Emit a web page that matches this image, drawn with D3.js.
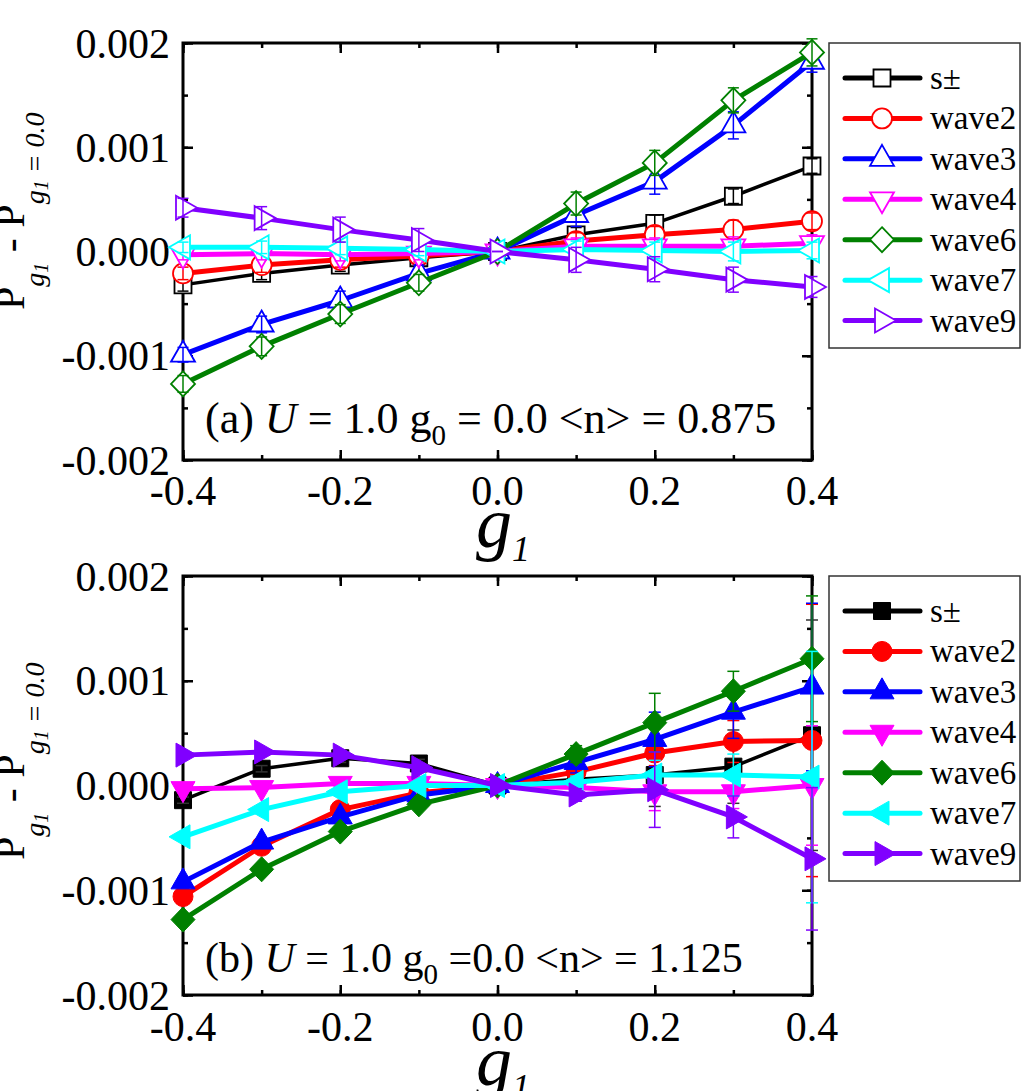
<!DOCTYPE html>
<html>
<head>
<meta charset="utf-8">
<script src="https://cdn.jsdelivr.net/npm/d3@7"></script>
<style>
body { margin: 0; background: #fff; }
svg text { font-family: "Liberation Serif", Tinos, "DejaVu Serif", serif; }
</style>
</head>
<body>
<svg id="chart" width="1025" height="1091" font-family="Liberation Serif"></svg>
<script>
// x values and labels
var g1Values = [-0.4, -0.3, -0.2, -0.1, 0.0, 0.1, 0.2, 0.3, 0.4];
var seriesNames = ["s\u00b1", "wave2", "wave3", "wave4", "wave6", "wave7", "wave9"];
var xTicks = [-0.4, -0.2, 0.0, 0.2, 0.4];
var yTicks = [-0.002, -0.001, 0.000, 0.001, 0.002];

// panel (a), <n> = 0.875
var aSpm   = [-0.00032, -0.00021, -0.00013, -0.00006, 0, 0.00016, 0.00027, 0.00053, 0.00082];
var aWave2 = [-0.00021, -0.00013, -0.00008, -0.00004, 0, 0.00010, 0.00016, 0.00021, 0.00029];
var aWave3 = [-0.00099, -0.00070, -0.00047, -0.00021, 0, 0.00035, 0.00067, 0.00121, 0.00182];
var aWave4 = [-0.00003, -0.00002, -0.00003, -0.00002, 0, 0.00005, 0.00005, 0.00005, 0.00008];
var aWave6 = [-0.00127, -0.00091, -0.00060, -0.00030, 0, 0.00046, 0.00085, 0.00145, 0.00191];
var aWave7 = [0.00004, 0.00004, 0.00003, 0.00002, 0, 0.00002, 0.00001, 0.00000, 0.00001];
var aWave9 = [0.00042, 0.00032, 0.00021, 0.00011, 0, -0.00008, -0.00017, -0.00027, -0.00034];

var aErrSpm   = [0.00006, 0.00006, 0.00006, 0.00005, 0, 0.00007, 0.00008, 0.00007, 0.00007];
var aErrWave2 = [0.00006, 0.00007, 0.00007, 0.00006, 0, 0.00008, 0.00008, 0.00009, 0.00008];
var aErrWave3 = [0.00007, 0.00008, 0.00009, 0.00008, 0, 0.00011, 0.00012, 0.00013, 0.00010];
var aErrWave4 = [0.00005, 0.00006, 0.00006, 0.00006, 0, 0.00008, 0.00008, 0.00009, 0.00008];
var aErrWave6 = [0.00008, 0.00009, 0.00009, 0.00008, 0, 0.00011, 0.00012, 0.00012, 0.00013];
var aErrWave7 = [0.00005, 0.00006, 0.00006, 0.00006, 0, 0.00008, 0.00008, 0.00009, 0.00008];
var aErrWave9 = [0.00009, 0.00011, 0.00012, 0.00011, 0, 0.00012, 0.00012, 0.00012, 0.00010];

// panel (b), <n> = 1.125
var bSpm   = [-0.00014, 0.00016, 0.00026, 0.00021, 0, 0.00006, 0.00010, 0.00018, 0.00048];
var bWave2 = [-0.00106, -0.00058, -0.00023, -0.00007, 0, 0.00013, 0.00031, 0.00042, 0.00043];
var bWave3 = [-0.00092, -0.00054, -0.00030, -0.00009, 0, 0.00022, 0.00044, 0.00070, 0.00094];
var bWave4 = [-0.00003, -0.00002, 0.00002, 0.00002, 0, -0.00002, -0.00006, -0.00006, 0.00000];
var bWave6 = [-0.00128, -0.00080, -0.00044, -0.00018, 0, 0.00030, 0.00060, 0.00090, 0.00121];
var bWave7 = [-0.00049, -0.00023, -0.00006, 0.00000, 0, 0.00003, 0.00010, 0.00010, 0.00008];
var bWave9 = [0.00029, 0.00032, 0.00029, 0.00017, 0, -0.00009, -0.00004, -0.00030, -0.00070];

var bErrSpm   = [0.00003, 0.00003, 0.00004, 0.00004, 0, 0.00008, 0.00030, 0.00035, 0.00110];
var bErrWave2 = [0.00003, 0.00003, 0.00004, 0.00004, 0, 0.00008, 0.00012, 0.00020, 0.00130];
var bErrWave3 = [0.00003, 0.00003, 0.00004, 0.00004, 0, 0.00010, 0.00026, 0.00025, 0.00080];
var bErrWave4 = [0.00003, 0.00003, 0.00004, 0.00004, 0, 0.00006, 0.00018, 0.00016, 0.00057];
var bErrWave6 = [0.00003, 0.00003, 0.00004, 0.00004, 0, 0.00008, 0.00028, 0.00019, 0.00060];
var bErrWave7 = [0.00003, 0.00003, 0.00004, 0.00004, 0, 0.00006, 0.00014, 0.00020, 0.00120];
var bErrWave9 = [0.00003, 0.00003, 0.00004, 0.00004, 0, 0.00006, 0.00036, 0.00020, 0.00068];

var colors = ["#000000", "#ff0000", "#0000ff", "#ff00ff", "#008000", "#00ffff", "#8000ff"];
var shapes = ["square", "circle", "up", "down", "diamond", "left", "right"];

var svg = d3.select("#chart");

var panels = [
	{
		values: [aSpm, aWave2, aWave3, aWave4, aWave6, aWave7, aWave9],
		errors: [aErrSpm, aErrWave2, aErrWave3, aErrWave4, aErrWave6, aErrWave7, aErrWave9],
		filled: false, top: 43, bottom: 460, legTop: 43, legBottom: 348,
		annY: 433, annSize: 44, ann: ["(a) ", "U", " = 1.0 g", "0", " = 0.0 <n> = 0.875"],
		tickY: 505, titleY: 547, ylabY: 310, capW: 11
	},
	{
		values: [bSpm, bWave2, bWave3, bWave4, bWave6, bWave7, bWave9],
		errors: [bErrSpm, bErrWave2, bErrWave3, bErrWave4, bErrWave6, bErrWave7, bErrWave9],
		filled: true, top: 576, bottom: 995, legTop: 576, legBottom: 881,
		annY: 972, annSize: 42, ann: ["(b) ", "U", " = 1.0 g", "0", " =0.0 <n> = 1.125"],
		tickY: 1041, titleY: 1085, ylabY: 860, capW: 12
	}
];

var left = 183, right = 812;

function markerPath(shape) {
	var p = d3.path();
	if (shape == "square") { p.rect(-8.5, -8.5, 17, 17); }
	else if (shape == "circle") { p.arc(0, 0, 10, 0, 2 * Math.PI); p.closePath(); }
	else if (shape == "up") { p.moveTo(0, -14); p.lineTo(12, 7); p.lineTo(-12, 7); p.closePath(); }
	else if (shape == "down") { p.moveTo(0, 14); p.lineTo(12, -7); p.lineTo(-12, -7); p.closePath(); }
	else if (shape == "diamond") { p.moveTo(0, -12.5); p.lineTo(12, 0); p.lineTo(0, 12.5); p.lineTo(-12, 0); p.closePath(); }
	else if (shape == "left") { p.moveTo(-14, 0); p.lineTo(7, -12); p.lineTo(7, 12); p.closePath(); }
	else if (shape == "right") { p.moveTo(14, 0); p.lineTo(-7, -12); p.lineTo(-7, 12); p.closePath(); }
	return p.toString();
}

var fmtY = function(d) { return d3.format(".3f")(d).replace("\u2212", "-"); };
var fmtX = function(d) { return d3.format(".1f")(d).replace("\u2212", "-"); };

panels.forEach(function(pn) {
	var x = d3.scaleLinear().domain([-0.4, 0.4]).range([left, right]);
	var y = d3.scaleLinear().domain([-0.002, 0.002]).range([pn.bottom, pn.top]);
	var h = pn.bottom - pn.top, w = right - left;
	var minorX = d3.range(-4, 5).map(function(i) { return i / 10; });
	var minorY = d3.range(-4, 5).map(function(i) { return i * 0.0005; });

	// axes with inward ticks on all four sides
	var axes = [
		[d3.axisBottom, x, "translate(0," + pn.bottom + ")"],
		[d3.axisTop, x, "translate(0," + pn.top + ")"],
		[d3.axisLeft, y, "translate(" + left + ",0)"],
		[d3.axisRight, y, "translate(" + right + ",0)"]
	];
	axes.forEach(function(a, i) {
		var isX = i < 2;
		svg.append("g").attr("transform", a[2])
			.call(a[0](a[1]).tickValues(isX ? minorX : minorY).tickSize(-5).tickFormat(""))
			.call(function(g) { g.select(".domain").remove(); g.selectAll("line").attr("stroke-width", 2.5); });
		svg.append("g").attr("transform", a[2])
			.call(a[0](a[1]).tickValues(isX ? xTicks : yTicks).tickSize(-10).tickFormat(""))
			.call(function(g) { g.select(".domain").remove(); g.selectAll("line").attr("stroke-width", 2.5); });
	});

	svg.append("rect").attr("x", left).attr("y", pn.top).attr("width", w).attr("height", h)
		.attr("fill", "none").attr("stroke", "#000").attr("stroke-width", 3);

	// tick labels
	svg.append("g").selectAll("text").data(yTicks).enter().append("text")
		.attr("x", 170).attr("y", function(d) { return y(d); }).attr("dy", "0.35em")
		.attr("text-anchor", "end").attr("font-size", 42).text(fmtY);
	svg.append("g").selectAll("text").data(xTicks).enter().append("text")
		.attr("x", function(d) { return x(d); }).attr("y", pn.tickY)
		.attr("text-anchor", "middle").attr("font-size", 42).text(fmtX);

	// series
	var line = d3.line().x(function(d, i) { return x(g1Values[i]); }).y(function(d) { return y(d); });
	pn.values.forEach(function(vals, s) {
		var col = colors[s];
		var grp = svg.append("g");
		grp.append("path").datum(vals).attr("d", line)
			.attr("fill", "none").attr("stroke", col)
			.attr("stroke-width", s == 0 ? 3.5 : 5).attr("stroke-linejoin", "round");
		grp.selectAll(".mk").data(vals).enter().append("path")
			.attr("d", markerPath(shapes[s]))
			.attr("transform", function(d, i) { return "translate(" + x(g1Values[i]) + "," + y(d) + ")"; })
			.attr("fill", pn.filled ? col : "#fff")
			.attr("stroke", col).attr("stroke-width", pn.filled ? 1 : 1.8);
		var errs = pn.errors[s];
		var eb = grp.selectAll(".eb").data(vals).enter().append("g")
			.attr("stroke", pn.filled && s == 0 ? "#333" : col).attr("stroke-width", 1.5);
		eb.append("line")
			.attr("x1", function(d, i) { return x(g1Values[i]); })
			.attr("x2", function(d, i) { return x(g1Values[i]); })
			.attr("y1", function(d, i) { return y(d - errs[i]); })
			.attr("y2", function(d, i) { return y(d + errs[i]); });
		[-1, 1].forEach(function(sg) {
			eb.append("line")
				.attr("x1", function(d, i) { return x(g1Values[i]) - pn.capW / 2; })
				.attr("x2", function(d, i) { return x(g1Values[i]) + pn.capW / 2; })
				.attr("y1", function(d, i) { return y(d + sg * errs[i]); })
				.attr("y2", function(d, i) { return y(d + sg * errs[i]); });
		});
	});

	// legend
	svg.append("rect").attr("x", 829).attr("y", pn.legTop)
		.attr("width", 191).attr("height", pn.legBottom - pn.legTop)
		.attr("fill", "#fff").attr("stroke", "#333").attr("stroke-width", 1.5);
	var step = (pn.legBottom - pn.legTop - 22) / 7;
	seriesNames.forEach(function(name, s) {
		var ly = pn.legTop + 35 + s * step;
		svg.append("line").attr("x1", 845).attr("x2", 920).attr("y1", ly).attr("y2", ly)
			.attr("stroke", colors[s]).attr("stroke-width", 5).attr("stroke-linecap", "round");
		svg.append("path").attr("d", markerPath(shapes[s]))
			.attr("transform", "translate(882," + ly + ")")
			.attr("fill", pn.filled ? colors[s] : "#fff")
			.attr("stroke", colors[s]).attr("stroke-width", pn.filled ? 1 : 1.8);
		svg.append("text").attr("x", 930).attr("y", ly + 11).attr("font-size", 33).text(name);
	});

	// annotation
	var ann = svg.append("text").attr("x", 205).attr("y", pn.annY).attr("font-size", pn.annSize);
	ann.append("tspan").text(pn.ann[0]);
	ann.append("tspan").attr("font-style", "italic").text(pn.ann[1]);
	ann.append("tspan").text(pn.ann[2]);
	ann.append("tspan").attr("font-size", 29).attr("dy", 12).text(pn.ann[3]);
	ann.append("tspan").attr("dy", -12).text(pn.ann[4]);

	// x title
	var xt = svg.append("text").attr("x", 476).attr("y", pn.titleY)
		.attr("font-size", 72).attr("font-style", "italic");
	xt.append("tspan").text("g");
	xt.append("tspan").attr("font-size", 36).attr("dy", 14).text("1");

	// y title
	var yt = svg.append("text").attr("transform", "translate(24," + pn.ylabY + ") rotate(-90)");
	yt.append("tspan").attr("font-size", 42).text("P");
	yt.append("tspan").attr("font-size", 28).attr("font-style", "italic").attr("dy", 20).text("g");
	yt.append("tspan").attr("font-size", 20).attr("font-style", "italic").attr("dy", 4).text("1");
	yt.append("tspan").attr("font-size", 42).attr("dy", -24).text(" - P");
	yt.append("tspan").attr("font-size", 28).attr("font-style", "italic").attr("dy", 20).text("g");
	yt.append("tspan").attr("font-size", 20).attr("font-style", "italic").attr("dy", 4).text("1");
	yt.append("tspan").attr("font-size", 28).attr("font-style", "italic").attr("dy", -4).text(" = 0.0");
});
</script>
</body>
</html>
